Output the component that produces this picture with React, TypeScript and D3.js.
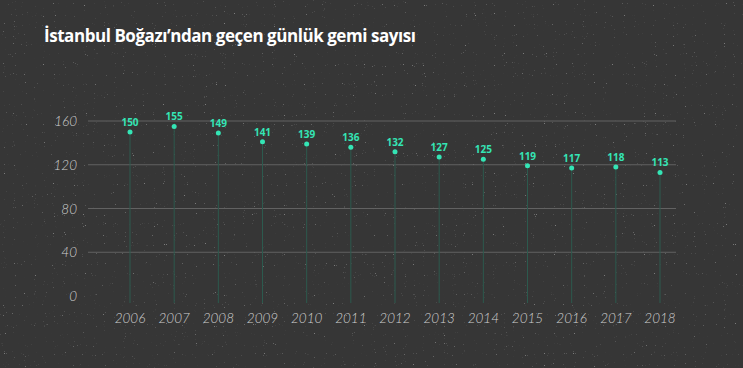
import React from 'react';
import * as d3 from 'd3';

const years = ['2006', '2007', '2008', '2009', '2010', '2011', '2012', '2013', '2014', '2015', '2016', '2017', '2018'];
const ships = [150, 155, 149, 141, 139, 136, 132, 127, 125, 119, 117, 118, 113];
const yTicks = [0, 40, 80, 120, 160];

const W = 743;
const H = 368;

const App: React.FC = () => {
  const x = d3.scalePoint<string>().domain(years).range([130, 660]);
  const y = d3.scaleLinear().domain([0, 160]).range([296, 121]);
  const green = '#34e5b5';

  return (
    <svg width={W} height={H} style={{ position: 'absolute', left: 0, top: 0, background: '#363636' }}>
      <defs>
        <filter id="speck" x="0" y="0" width="100%" height="100%">
          <feTurbulence type="fractalNoise" baseFrequency="0.9" numOctaves={1} seed={3} result="n" />
          <feColorMatrix in="n" type="matrix" values="0 0 0 0 1  0 0 0 0 1  0 0 0 0 1  0 0 0 9 -6.4" />
        </filter>
      </defs>
      <rect width={W} height={H} fill="#363636" />
      <rect width={W} height={H} filter="url(#speck)" opacity={0.35} />

      <text x={44} y={42} fill="#ffffff" fontFamily="Open Sans, sans-serif" fontWeight={700} fontSize={17} letterSpacing={-0.45}>
        İstanbul Boğazı’ndan geçen günlük gemi sayısı
      </text>

      {/* grid */}
      {yTicks.filter(t => t > 0).map(t => (
        <line key={t} x1={88} x2={676} y1={y(t)} y2={y(t)} stroke="#626262" strokeWidth={1} />
      ))}
      {yTicks.map(t => (
        <text key={'l' + t} x={77} y={y(t) + 5} textAnchor="end" fill="#cfcfcf"
          fontFamily="Lato, sans-serif" fontStyle="italic" fontWeight={300} fontSize={13.5}>
          {t}
        </text>
      ))}

      {/* lollipops */}
      {years.map((yr, i) => (
        <g key={yr}>
          <line x1={x(yr)} x2={x(yr)} y1={y(ships[i])} y2={303} stroke="#2c5a4e" strokeWidth={1} />
          <circle cx={x(yr)} cy={y(ships[i])} r={2.5} fill={green} />
          <text x={x(yr)} y={y(ships[i]) - 6} textAnchor="middle" fill={green}
            fontFamily="Open Sans, sans-serif" fontWeight={700} fontSize={10}>
            {ships[i]}
          </text>
          <text x={x(yr)} y={323} textAnchor="middle" fill="#cfcfcf"
            fontFamily="Lato, sans-serif" fontStyle="italic" fontWeight={300} fontSize={13.5}>
            {yr}
          </text>
        </g>
      ))}
    </svg>
  );
};

export default App;
